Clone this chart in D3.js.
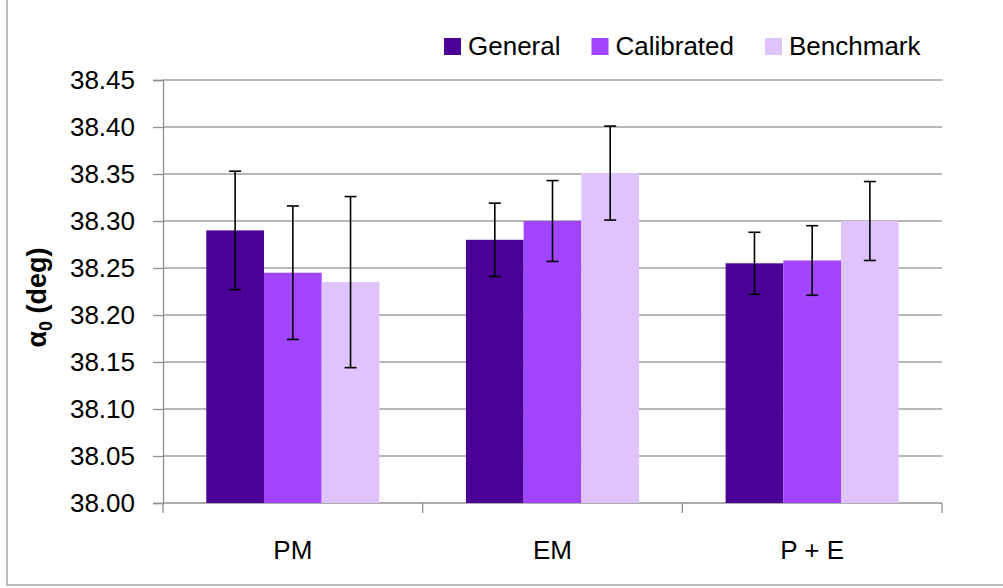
<!DOCTYPE html>
<html>
<head>
<meta charset="utf-8">
<script src="https://cdn.jsdelivr.net/npm/d3@7/dist/d3.min.js"></script>
<style>
  html, body { margin: 0; padding: 0; background: #fff; }
  svg { display: block; font-family: "Liberation Sans", Arial, sans-serif; }
</style>
</head>
<body>
<svg id="chart" width="1003" height="588"></svg>
<script>
// Categories and series
const categories = ["PM", "EM", "P + E"];
const seriesNames = ["General", "Calibrated", "Benchmark"];
const seriesColors = ["#4b0096", "#a145ff", "#dfc3fd"];

// Mean alpha_0 per category (deg), one array per series
const generalValues    = [38.290, 38.280, 38.255];
const calibratedValues = [38.245, 38.300, 38.258];
const benchmarkValues  = [38.235, 38.351, 38.300];

// Symmetric error-bar half widths (deg)
const generalErrors    = [0.063, 0.039, 0.033];
const calibratedErrors = [0.071, 0.043, 0.037];
const benchmarkErrors  = [0.091, 0.050, 0.042];

const yTicks = [38.00, 38.05, 38.10, 38.15, 38.20, 38.25, 38.30, 38.35, 38.40, 38.45];

const values = [generalValues, calibratedValues, benchmarkValues];
const errors = [generalErrors, calibratedErrors, benchmarkErrors];

const svg = d3.select("#chart");
const plot = { left: 163, right: 942, top: 80, bottom: 503 };

// Outer chart border (top and right edges fall outside the canvas)
svg.append("rect")
  .attr("x", 7).attr("y", -10)
  .attr("width", 1100).attr("height", 595)
  .attr("fill", "none").attr("stroke", "#a6a6a6").attr("stroke-width", 1.5);

const x = d3.scaleBand().domain(categories).range([plot.left, plot.right]).paddingInner(0).paddingOuter(0);
const xSub = d3.scaleBand().domain(seriesNames).range([0, x.bandwidth()]).paddingInner(0).paddingOuter(0.75);
const y = d3.scaleLinear().domain([38.00, 38.45]).range([plot.bottom, plot.top]);

// Horizontal gridlines
svg.append("g").selectAll("line").data(yTicks.slice(1)).join("line")
  .attr("x1", plot.left).attr("x2", plot.right)
  .attr("y1", d => y(d)).attr("y2", d => y(d))
  .attr("stroke", "#a0a0a0").attr("stroke-width", 1.3);

// Y axis
const yAxis = svg.append("g").attr("transform", `translate(${plot.left},0)`)
  .call(d3.axisLeft(y).tickValues(yTicks).tickFormat(d3.format(".2f")).tickSize(10).tickPadding(18));
yAxis.select(".domain").attr("stroke", "#909090").attr("stroke-width", 1.3);
yAxis.selectAll(".tick line").attr("stroke", "#909090").attr("stroke-width", 1.3);
yAxis.selectAll(".tick text")
  .attr("font-size", 26).attr("fill", "#000")
  .attr("font-family", "'Liberation Sans', Arial, sans-serif");

// X axis with tick marks at category boundaries
const xAxisG = svg.append("g").attr("transform", `translate(0,${plot.bottom})`);
xAxisG.append("line").attr("x1", plot.left).attr("x2", plot.right)
  .attr("stroke", "#909090").attr("stroke-width", 1.3);
const boundaries = categories.map(c => x(c)).concat([x(categories[categories.length - 1]) + x.bandwidth()]);
xAxisG.selectAll("line.tk").data(boundaries).join("line").attr("class", "tk")
  .attr("x1", d => d).attr("x2", d => d).attr("y1", 0).attr("y2", 10)
  .attr("stroke", "#909090").attr("stroke-width", 1.3);
xAxisG.selectAll("text").data(categories).join("text")
  .attr("x", d => x(d) + x.bandwidth() / 2).attr("y", 56)
  .attr("text-anchor", "middle").attr("font-size", 26).attr("fill", "#000")
  .text(d => d);

// Bars
const barData = [];
seriesNames.forEach((s, si) => {
  categories.forEach((c, ci) => {
    barData.push({ series: s, si, cat: c, value: values[si][ci], err: errors[si][ci] });
  });
});

svg.append("g").selectAll("rect").data(barData).join("rect")
  .attr("x", d => x(d.cat) + xSub(d.series))
  .attr("width", xSub.bandwidth())
  .attr("y", d => y(d.value))
  .attr("height", d => y(38.00) - y(d.value))
  .attr("fill", d => seriesColors[d.si]);

// Error bars
const eb = svg.append("g").attr("stroke", "#000").attr("stroke-width", 1.6);
barData.forEach(d => {
  const cx = x(d.cat) + xSub(d.series) + xSub.bandwidth() / 2;
  const yt = y(d.value + d.err), yb = y(d.value - d.err);
  eb.append("line").attr("x1", cx).attr("x2", cx).attr("y1", yt).attr("y2", yb);
  eb.append("line").attr("x1", cx - 6).attr("x2", cx + 6).attr("y1", yt).attr("y2", yt);
  eb.append("line").attr("x1", cx - 6).attr("x2", cx + 6).attr("y1", yb).attr("y2", yb);
});

// Y axis title: alpha with subscript 0
const yt = svg.append("text")
  .attr("transform", `translate(46,${(plot.top + plot.bottom) / 2 + 6}) rotate(-90)`)
  .attr("text-anchor", "middle").attr("font-size", 27).attr("font-weight", "bold").attr("fill", "#000");
yt.append("tspan").text("α");
yt.append("tspan").attr("font-size", 18).attr("dy", 6).text("0");
yt.append("tspan").attr("dy", -6).text(" (deg)");

// Legend
const legend = svg.append("g");
let lx = 444;
seriesNames.forEach((s, i) => {
  legend.append("rect").attr("x", lx).attr("y", 38).attr("width", 17).attr("height", 17)
    .attr("fill", seriesColors[i]);
  const t = legend.append("text").attr("x", lx + 24).attr("y", 55)
    .attr("font-size", 26).attr("fill", "#000").text(s);
  lx += 24 + t.node().getComputedTextLength() + 31;
});
</script>
</body>
</html>
